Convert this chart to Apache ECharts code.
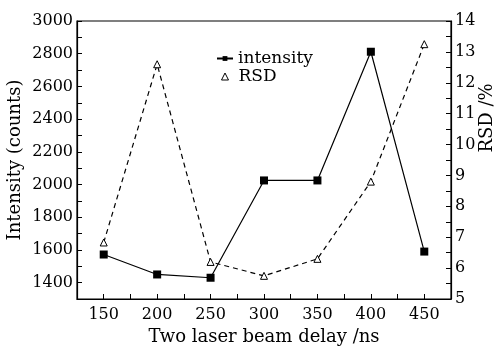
<!DOCTYPE html>
<html>
<head>
<meta charset="utf-8">
<script src="https://cdn.jsdelivr.net/npm/echarts@6/dist/echarts.min.js"></script>
<style>html,body{margin:0;padding:0;background:#fff}#c{width:496px;height:346px}</style>
</head>
<body>
<div id="c"></div>
<script>
const delays = [150, 200, 250, 300, 350, 400, 450];
const intensity = [1572, 1450, 1430, 2025, 2025, 2812, 1590];
const rsd = [6.83, 12.6, 6.2, 5.75, 6.3, 8.8, 13.25];
const xTicks = [150, 200, 250, 300, 350, 400, 450];
const leftTicks = [1400, 1600, 1800, 2000, 2200, 2400, 2600, 2800, 3000];
const rightTicks = [5, 6, 7, 8, 9, 10, 11, 12, 13, 14];

const font = 'DejaVu Serif';
const chart = echarts.init(document.getElementById('c'));
const tickStyle = {show: true, inside: true, length: 5, lineStyle: {color: '#000', width: 1}};
chart.setOption({
  animation: false,
  textStyle: {fontFamily: font, color: '#000'},
  grid: {left: 77, right: 45, top: 21, bottom: 47, show: true, borderColor: '#000', borderWidth: 1.2,
    outerBoundsMode: 'none', containLabel: false},
  legend: [{
    left: 211, top: 45, itemGap: 2, itemWidth: 16, itemHeight: 6,
    textStyle: {fontFamily: font, fontSize: 17, color: '#000'},
    data: [{name: 'intensity'}]
  }, {
    left: 216, top: 63, itemGap: 2, itemWidth: 7, itemHeight: 7,
    textStyle: {fontFamily: font, fontSize: 17, color: '#000', padding: [0, 0, 0, 5]},
    data: [{name: 'RSD', icon: 'triangle', itemStyle: {color: '#fff', borderColor: '#000', borderWidth: 1}}]
  }],
  xAxis: {
    type: 'value', min: 125, max: 475, interval: 25,
    name: 'Two laser beam delay /ns', nameLocation: 'middle', nameGap: 27,
    nameTextStyle: {fontFamily: font, fontSize: 18, color: '#000'},
    axisLine: {lineStyle: {color: '#000', width: 1.2}},
    axisTick: tickStyle,
    splitLine: {show: false},
    axisLabel: {fontFamily: font, fontSize: 16, color: '#000', margin: 8,
      formatter: v => xTicks.includes(v) ? String(v) : ''}
  },
  yAxis: [{
    type: 'value', min: 1300, max: 3000, interval: 100,
    name: 'Intensity (counts)', nameLocation: 'middle', nameGap: 53, nameMoveOverlap: false,
    nameTextStyle: {fontFamily: font, fontSize: 18, color: '#000'},
    axisLine: {show: true, lineStyle: {color: '#000', width: 1.2}},
    axisTick: tickStyle,
    splitLine: {show: false},
    axisLabel: {fontFamily: font, fontSize: 16, color: '#000', margin: 4,
      formatter: v => leftTicks.includes(v) ? String(v) : ''}
  }, {
    type: 'value', min: 5, max: 14, interval: 0.5, position: 'right',
    name: 'RSD /%', nameLocation: 'middle', nameGap: 27, nameRotate: 90, nameMoveOverlap: false,
    nameTextStyle: {fontFamily: font, fontSize: 18, color: '#000', padding: [0, 0, 0, 84]},
    axisLine: {show: true, lineStyle: {color: '#000', width: 1.2}},
    axisTick: tickStyle,
    splitLine: {show: false},
    axisLabel: {fontFamily: font, fontSize: 16, color: '#000', margin: 4,
      formatter: v => rightTicks.includes(v) ? String(v) : ''}
  }],
  series: [{
    name: 'intensity', type: 'line', yAxisIndex: 0,
    data: delays.map((d, i) => [d, intensity[i]]),
    symbol: 'rect', symbolSize: 8,
    lineStyle: {color: '#000', width: 1.2},
    itemStyle: {color: '#000'}
  }, {
    name: 'RSD', type: 'line', yAxisIndex: 1,
    data: delays.map((d, i) => [d, rsd[i]]),
    symbol: 'triangle', symbolSize: 7, showAllSymbol: true,
    lineStyle: {color: '#000', width: 1.2, type: [5, 4]},
    itemStyle: {color: '#fff', borderColor: '#000', borderWidth: 1}
  }]
});
</script>
</body>
</html>
